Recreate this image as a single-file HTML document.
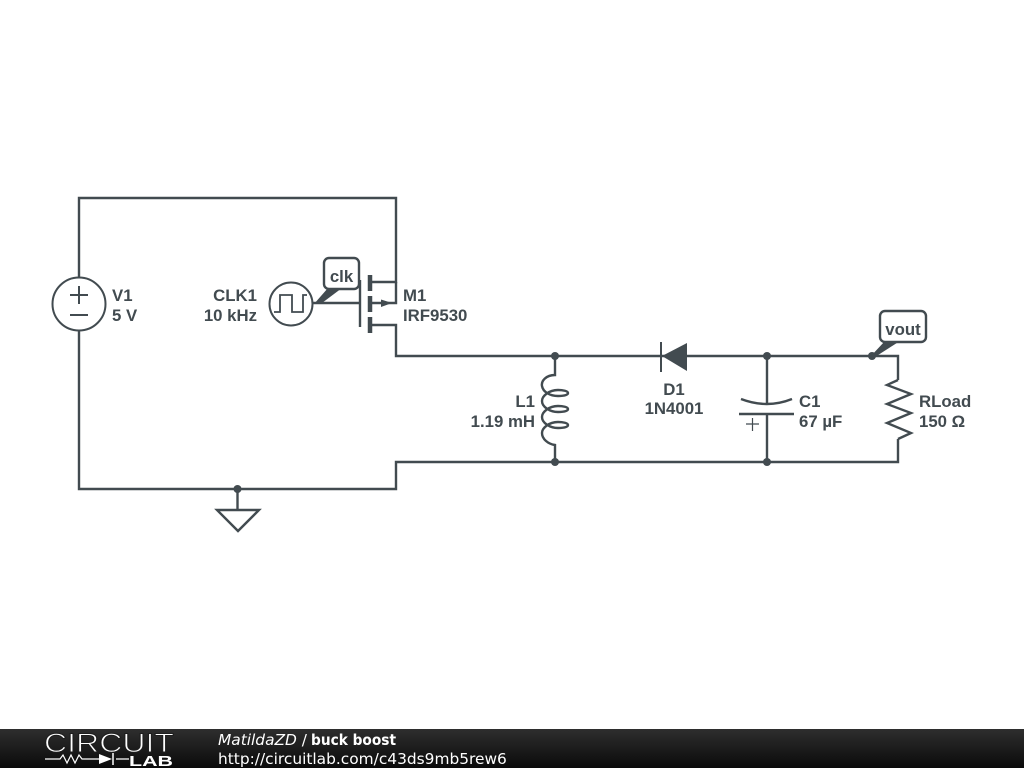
<!DOCTYPE html>
<html>
<head>
<meta charset="utf-8">
<style>
html,body{margin:0;padding:0;background:#fff;width:1024px;height:768px;overflow:hidden}
svg{display:block;position:absolute;left:0;top:0}
.t{font-family:"Liberation Sans",sans-serif;font-weight:bold;font-size:16.800px;fill:#424b50}
.f{font-family:"DejaVu Sans",sans-serif;font-size:15.400px;fill:#fff}
</style>
</head>
<body>
<svg width="1024" height="768" viewBox="0 0 1024 768" xmlns="http://www.w3.org/2000/svg">
<defs>
<linearGradient id="g" x1="0" y1="0" x2="0" y2="1">
<stop offset="0" stop-color="#2e2e2e"/>
<stop offset="1" stop-color="#0a0a0a"/>
</linearGradient>
</defs>
<g fill="none" stroke="#424b50" stroke-width="2.400">
<path d="M79 277V198H396V282H371"/>
<path d="M79 331V489H396V462H898V439"/>
<path d="M371 325H396V356H898V380"/>
<path d="M371 303H396V282"/>
<path d="M312 303H360"/>
<circle cx="79" cy="304" r="26.500" stroke-width="2"/>
<path d="M70 295H88M79 286V304M70 315H88" stroke-width="2"/>
<circle cx="291" cy="304" r="21.500" stroke-width="2"/>
<path d="M274 312H280V295H292V312H303V295H307" stroke-width="1.800"/>
<path d="M360 280V327"/>
<path d="M370 275V291M370 296V312M370 317V333" stroke-width="4.500"/>
<path d="M661 342V372" stroke-width="2"/>
<path d="M767 356V404M767 414V462"/>
<path d="M741 399Q767 409 792 399"/>
<path d="M739 414H794"/>
<path d="M746 424H759M752.500 418V431" stroke-width="1.200"/>
<path d="M898 380L887 385L911 394L887 404L911 413L887 423L911 433L898 439"/>
<path d="M555 356V375C546 375 541 381 542 386C543 392 550 396 558 396C564 396 568 395 568 393C568 391 563 390 558 390C549 390 542 396 542 401C542 407 550 412 558 412C564 412 568 411 568 409C568 407 563 406 558 406C549 406 542 412 542 417C542 423 550 428 558 428C564 428 568 427 568 425C568 423 563 422 558 422C549 422 542 428 542 433C542 439 548 444 555 445V462"/>
<path d="M237.500 489V510"/>
<path d="M217 510H259L238 531Z"/>
<rect x="324" y="258" width="35" height="31" rx="5" fill="#fff"/>
<rect x="880" y="311" width="46" height="31" rx="5" fill="#fff"/>
</g>
<g fill="#424b50" stroke="none">
<path d="M381 299.500L392 303L381 307Z"/>
<path d="M662 356L687 343V371Z"/>
<circle cx="555" cy="356" r="4"/>
<circle cx="767" cy="356" r="4"/>
<circle cx="872" cy="356" r="4"/>
<circle cx="555" cy="462" r="4"/>
<circle cx="767" cy="462" r="4"/>
<circle cx="237.500" cy="489" r="4"/>
<path d="M314 304L328 288H342L322 303Z"/>
<path d="M870 357L885 341H900L875 357Z"/>
</g>
<g class="labels">
<text class="t" x="112" y="301">V1</text>
<text class="t" x="112" y="321">5 V</text>
<text class="t" x="257" y="301" text-anchor="end">CLK1</text>
<text class="t" x="257" y="321" text-anchor="end">10 kHz</text>
<text class="t" x="403" y="301">M1</text>
<text class="t" x="403" y="321">IRF9530</text>
<text class="t" x="535" y="407" text-anchor="end">L1</text>
<text class="t" x="535" y="427" text-anchor="end">1.19 mH</text>
<text class="t" x="674" y="395" text-anchor="middle">D1</text>
<text class="t" x="674" y="414" text-anchor="middle">1N4001</text>
<text class="t" x="799" y="407">C1</text>
<text class="t" x="799" y="427">67 µF</text>
<text class="t" x="919" y="407">RLoad</text>
<text class="t" x="919" y="427">150 Ω</text>
<text class="t" x="341.500" y="282" text-anchor="middle">clk</text>
<text class="t" x="903" y="335" text-anchor="middle">vout</text>
</g>
<rect x="0" y="729" width="1024" height="39" fill="url(#g)"/>
<text x="44" y="752" font-family="Liberation Sans,sans-serif" font-size="27" fill="#fff" stroke="#1e1e1e" stroke-width="1" paint-order="fill" textLength="130" lengthAdjust="spacingAndGlyphs">CIRCUIT</text>
<path d="M45 759H60L63 755L67 763L71 755L75 763L79 755L82 759H99M116 759H129" fill="none" stroke="#fff" stroke-width="1.200"/>
<path d="M99 754L112 759L99 764Z" fill="#fff"/>
<path d="M113 753V765" stroke="#fff" stroke-width="1.500"/>
<text x="129" y="766" font-family="Liberation Sans,sans-serif" font-weight="bold" font-size="15" fill="#fff" textLength="44" lengthAdjust="spacingAndGlyphs">LAB</text>
<text class="f" x="218" y="745"><tspan font-style="italic">MatildaZD</tspan> /</text>
<text class="f" x="311" y="745" font-weight="bold" textLength="85" lengthAdjust="spacingAndGlyphs">buck boost</text>
<text class="f" x="218" y="764">http://circuitlab.com/c43ds9mb5rew6</text>
</svg>
</body>
</html>
